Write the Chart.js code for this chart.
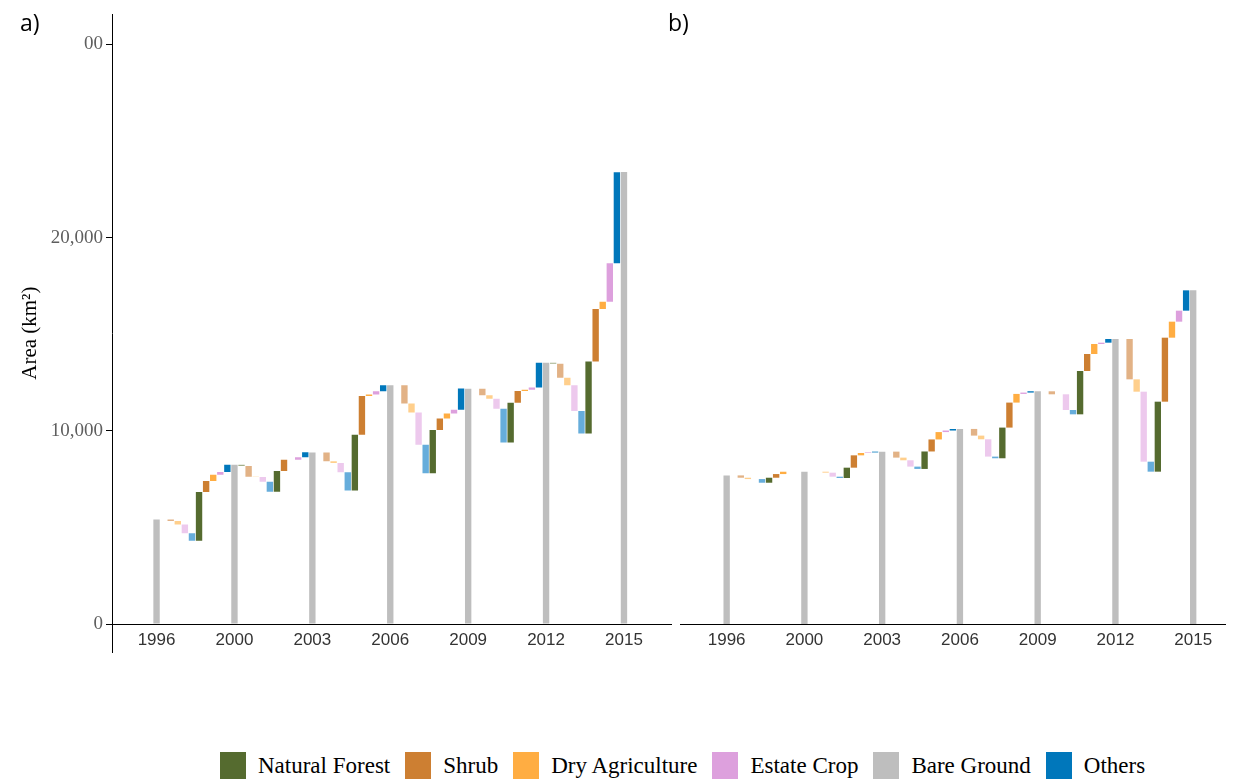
<!DOCTYPE html>
<html>
<head>
<meta charset="utf-8">
<script src="https://cdn.jsdelivr.net/npm/chart.js@4.4.1/dist/chart.umd.min.js"></script>
<style>
    body { margin: 0; background: #fff; }
    #page { position: relative; width: 1238px; height: 782px; overflow: hidden; background: #fff; }
    .panel { position: absolute; top: 0; }
    .tag { position: absolute; top: 6px; font: 23px "Open Sans", sans-serif; color: #000; }
    #legend { position: absolute; left: 220px; top: 752px; display: flex; align-items: center;
              font: 23px "Liberation Serif", serif; color: #000; }
    .item { display: flex; align-items: center; margin-right: 15px; }
    .swatch { width: 26px; height: 27px; margin-right: 12px; }
</style>
</head>
<body>
<div id="page">
    <canvas id="chartA" class="panel" style="left:0px" width="680" height="700"></canvas>
    <canvas id="chartB" class="panel" style="left:670px" width="568" height="700"></canvas>
    <div class="tag" style="left:20px">a)</div>
    <div class="tag" style="left:668px">b)</div>
    <div id="legend"></div>
</div>
<script>
// years with a Bare Ground total bar
const years = ['1996', '2000', '2003', '2006', '2009', '2012', '2015'];
const yTicks = [0, 10000, 20000, 30000];

// legend classes and colours
const classes = ['Natural Forest', 'Shrub', 'Dry Agriculture', 'Estate Crop', 'Bare Ground', 'Others'];
const fullColors = ['#556b2f', '#cd7f32', '#ffad42', '#dda0dd', '#bebebe', '#0077bb'];
// lighter shades used when Bare Ground is lost to a class
const lightColors = ['#a3b08a', '#e2b286', '#ffcf8c', '#edc9ed', '#bebebe', '#66addb'];

// change classes, in the order they are stepped through inside each period
const changeClasses = ['Natural Forest', 'Shrub', 'Dry Agriculture', 'Estate Crop', 'Others'];

// a) Bare Ground area (km2) per year
const bareA = [5410, 8245, 8885, 12360, 12180, 13520, 23390];
// a) losses per period (rows follow changeClasses)
const lossA = [
    [0, 60, 0, 0, 0, 50],
    [70, 560, 464, 948, 344, 722],
    [190, 20, 86, 464, 172, 395],
    [450, 240, 481, 1665, 515, 1323],
    [390, 520, 945, 1478, 1753, 1168]
];
// a) gains per period
const gainA = [
    [2525, 1082, 2887, 2234, 2062, 3729],
    [567, 582, 2010, 600, 601, 2715],
    [325, 0, 69, 258, 69, 378],
    [137, 120, 170, 190, 120, 1993],
    [376, 258, 315, 1100, 1272, 4708]
];

// b) Bare Ground area (km2) per year
const bareB = [7660, 7850, 8885, 10055, 11995, 14690, 17200];
// b) losses per period
const lossB = [
    [0, 0, 0, 0, 0, 0],
    [120, 0, 309, 344, 155, 2079],
    [69, 50, 137, 189, 0, 636],
    [0, 206, 326, 893, 809, 3608],
    [189, 69, 120, 86, 223, 515]
];
// b) gains per period
const gainB = [
    [258, 533, 900, 1581, 2233, 3608],
    [189, 636, 620, 1289, 876, 3299],
    [120, 120, 380, 447, 515, 825],
    [0, 30, 80, 69, 69, 567],
    [0, 40, 80, 69, 189, 1048]
];

const serif = '"Liberation Serif", "Times New Roman", serif';
const sans = '"Liberation Sans", Arial, sans-serif';
const slotsPerPeriod = 11;

function buildDatasets(bare, loss, gain) {
    const sets = changeClasses.map((name) => {
        const k = classes.indexOf(name);
        return { label: name, data: [], backgroundColor: [], colorIndex: k };
    });
    for (let p = 0; p < bare.length - 1; p++) {
        let level = bare[p];
        const start = p * slotsPerPeriod;
        changeClasses.forEach((name, c) => {
            const v = loss[c][p];
            if (v > 0) {
                sets[c].data.push({ x: start + 1 + c, y: [level - v, level] });
                sets[c].backgroundColor.push(lightColors[sets[c].colorIndex]);
            }
            level -= v;
        });
        changeClasses.forEach((name, c) => {
            const v = gain[c][p];
            if (v > 0) {
                sets[c].data.push({ x: start + 6 + c, y: [level, level + v] });
                sets[c].backgroundColor.push(fullColors[sets[c].colorIndex]);
            }
            level += v;
        });
    }
    sets.push({
        label: 'Bare Ground',
        data: bare.map((v, p) => ({ x: p * slotsPerPeriod, y: [0, v] })),
        backgroundColor: fullColors[classes.indexOf('Bare Ground')]
    });
    return sets;
}

function makeChart(id, bare, loss, gain, showY, xMin, xMax, padding) {
    return new Chart(document.getElementById(id), {
        type: 'bar',
        data: { datasets: buildDatasets(bare, loss, gain) },
        options: {
            responsive: false,
            animation: false,
            layout: { padding },
            grouped: false,
            barPercentage: 0.9,
            categoryPercentage: 1,
            borderWidth: 0,
            plugins: { legend: { display: false }, tooltip: { enabled: false } },
            scales: {
                x: {
                    type: 'linear',
                    position: { y: 0 },
                    min: xMin,
                    max: xMax,
                    offset: false,
                    afterBuildTicks: (s) => { s.ticks = years.map((y, p) => ({ value: p * slotsPerPeriod })); },
                    grid: { display: false, drawTicks: false },
                    border: { display: true, color: '#000', width: 1 },
                    ticks: {
                        autoSkip: false, maxRotation: 0, padding: 6, color: '#333',
                        font: { family: sans, size: 17 },
                        callback: (v, i) => years[i]
                    }
                },
                y: {
                    display: showY,
                    min: -1443,
                    max: 31546,
                    afterBuildTicks: (s) => { s.ticks = yTicks.map((v) => ({ value: v })); },
                    afterFit: (s) => { s.width = showY ? 112 : 0; },
                    grid: { drawOnChartArea: false, tickLength: 6, color: '#000' },
                    border: { display: true, color: '#000', width: 1 },
                    ticks: {
                        padding: 3, color: '#5e5e5e',
                        font: { family: serif, size: 19 },
                        callback: (v) => (v === 30000 ? '00' : v.toLocaleString('en-US'))
                    },
                    title: {
                        display: true, text: 'Area (km²)', color: '#000',
                        font: { family: serif, size: 21 },
                        padding: { top: 18, bottom: 0 }
                    }
                }
            }
        }
    });
}

makeChart('chartA', bareA, lossA, gainA, true, -6.29, 72.64, { left: 0, top: 12, right: 9, bottom: 48 });
makeChart('chartB', bareB, lossB, gainB, false, -6.6, 70.5, { left: 10, top: 12, right: 13, bottom: 48 });

const legend = document.getElementById('legend');
classes.forEach((name, k) => {
    const item = document.createElement('div');
    item.className = 'item';
    const sw = document.createElement('div');
    sw.className = 'swatch';
    sw.style.background = fullColors[k];
    const label = document.createElement('span');
    label.textContent = name;
    item.appendChild(sw);
    item.appendChild(label);
    legend.appendChild(item);
});
</script>
</body>
</html>
